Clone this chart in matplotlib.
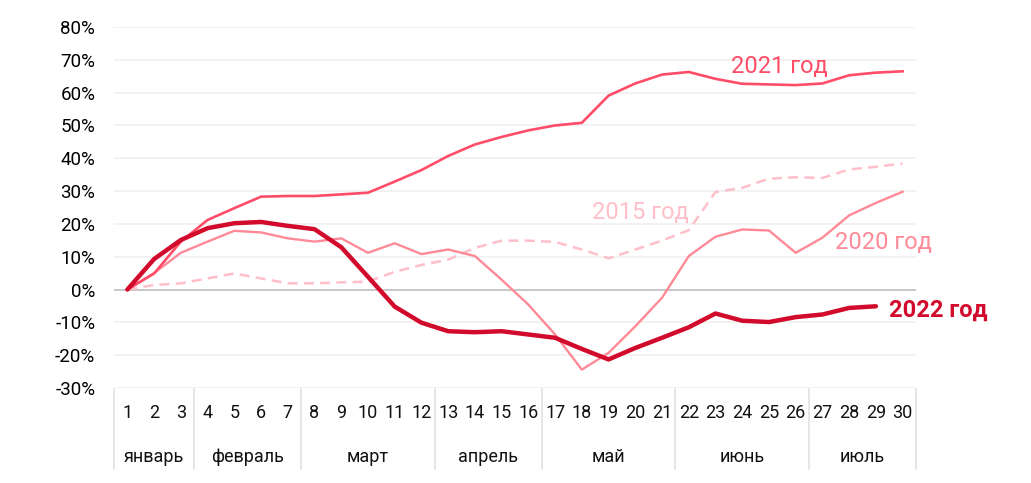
import numpy as np
import matplotlib
matplotlib.use("Agg")
import matplotlib.pyplot as plt
import matplotlib.transforms as mtransforms

plt.rcParams['font.family'] = ['Roboto', 'DejaVu Sans']

# points 1..30 (week-ish periods), cumulative change in %
points = list(range(1, 31))
y2021 = [0, 4.9, 14.6, 21.2, 24.8, 28.3, 28.5, 28.5, 29.0, 29.5, 32.9, 36.4, 40.7, 44.2, 46.5,
         48.5, 50.0, 50.8, 59.1, 62.8, 65.5, 66.3, 64.2, 62.7, 62.5, 62.3, 62.8, 65.3, 66.1, 66.5]
y2020 = [0, 5.0, 11.2, 14.6, 17.9, 17.4, 15.6, 14.6, 15.6, 11.2, 14.1, 10.8, 12.2, 10.2, 3.0,
         -4.6, -13.7, -24.4, -19.3, -11.2, -2.5, 10.2, 16.1, 18.3, 18.0, 11.2, 15.8, 22.6, 26.4, 29.8]
y2015 = [0, 1.4, 1.9, 3.4, 4.9, 3.4, 1.9, 1.9, 2.2, 2.4, 5.4, 7.5, 9.1, 12.7, 14.9,
         14.9, 14.5, 12.2, 9.5, 12.2, 14.9, 18.1, 29.7, 31.0, 33.8, 34.2, 34.0, 36.6, 37.4, 38.4]
y2022 = [0, 9.3, 15.1, 18.7, 20.2, 20.6, 19.4, 18.4, 12.9, 3.9, -5.2, -10.1, -12.7, -13.0, -12.7,
         -13.7, -14.7, -18.1, -21.3, -17.8, -14.7, -11.5, -7.3, -9.5, -9.9, -8.4, -7.6, -5.6, -5.1]

months = ["январь", "февраль", "март", "апрель", "май", "июнь", "июль"]
month_bounds = [(1, 3), (4, 7), (8, 12), (13, 16), (17, 21), (22, 26), (27, 30)]

C2022 = "#d20a2c"
C2021 = "#ff4d68"
C2020 = "#ff8a97"
C2015 = "#ffbfc8"

fig = plt.figure(figsize=(10.31, 4.83), dpi=100)
ax = fig.add_axes([114 / 1031, 1 - 388 / 483, (916 - 114) / 1031, (388 - 27) / 483])

yticks = np.arange(-30, 81, 10)
for v in yticks:
    if v == 0:
        continue
    ax.axhline(v, color="#f0f0f0", lw=1.2, zorder=0)
ax.axhline(0, color="#bdbdbd", lw=1.2, zorder=1)

ax.plot(points, y2015, color=C2015, lw=1.8, ls=(0, (4, 2.5)), zorder=2)
ax.plot(points, y2020, color=C2020, lw=1.7, zorder=3)
ax.plot(points, y2021, color=C2021, lw=1.9, zorder=4)
ax.plot(points[:len(y2022)], y2022, color=C2022, lw=3.2, zorder=5, solid_capstyle="round")

ax.set_xlim(0.5, 30.5)
ax.set_ylim(-30, 80)
ax.set_yticks(yticks)
ax.set_yticklabels([f"{v}%" for v in yticks], fontsize=13.5)
ax.set_xticks([])
ax.tick_params(axis="y", length=0, pad=13.5)
for s in ax.spines.values():
    s.set_visible(False)

# labels on lines
ax.text(25.4, 68.0, "2021 год", color=C2021, fontsize=17, ha="center", va="center")
ax.text(20.2, 23.6, "2015 год", color=C2015, fontsize=17, ha="center", va="center")
ax.text(29.3, 14.2, "2020 год", color=C2020, fontsize=17, ha="center", va="center")
ax.text(29.5, -6.3, "2022 год", color=C2022, fontsize=17, fontweight="bold",
        ha="left", va="center")

# bottom table: period numbers, month names, separators
trans = mtransforms.blended_transform_factory(ax.transData, ax.transAxes)
for p in points:
    ax.text(p, -0.069, str(p), transform=trans, ha="center", va="center", fontsize=13,
            color="#111111", clip_on=False)
for name, (a, b) in zip(months, month_bounds):
    ax.text((a + b) / 2, -0.19, name, transform=trans, ha="center", va="center",
            fontsize=13, color="#111111", clip_on=False)
seps = [a - 0.5 for a, b in month_bounds] + [month_bounds[-1][1] + 0.5]
for x in seps:
    ax.plot([x, x], [-0.003, -0.224], transform=trans, color="#e2e2e2", lw=1.2,
            clip_on=False)

fig.savefig("out.png", dpi=100)
